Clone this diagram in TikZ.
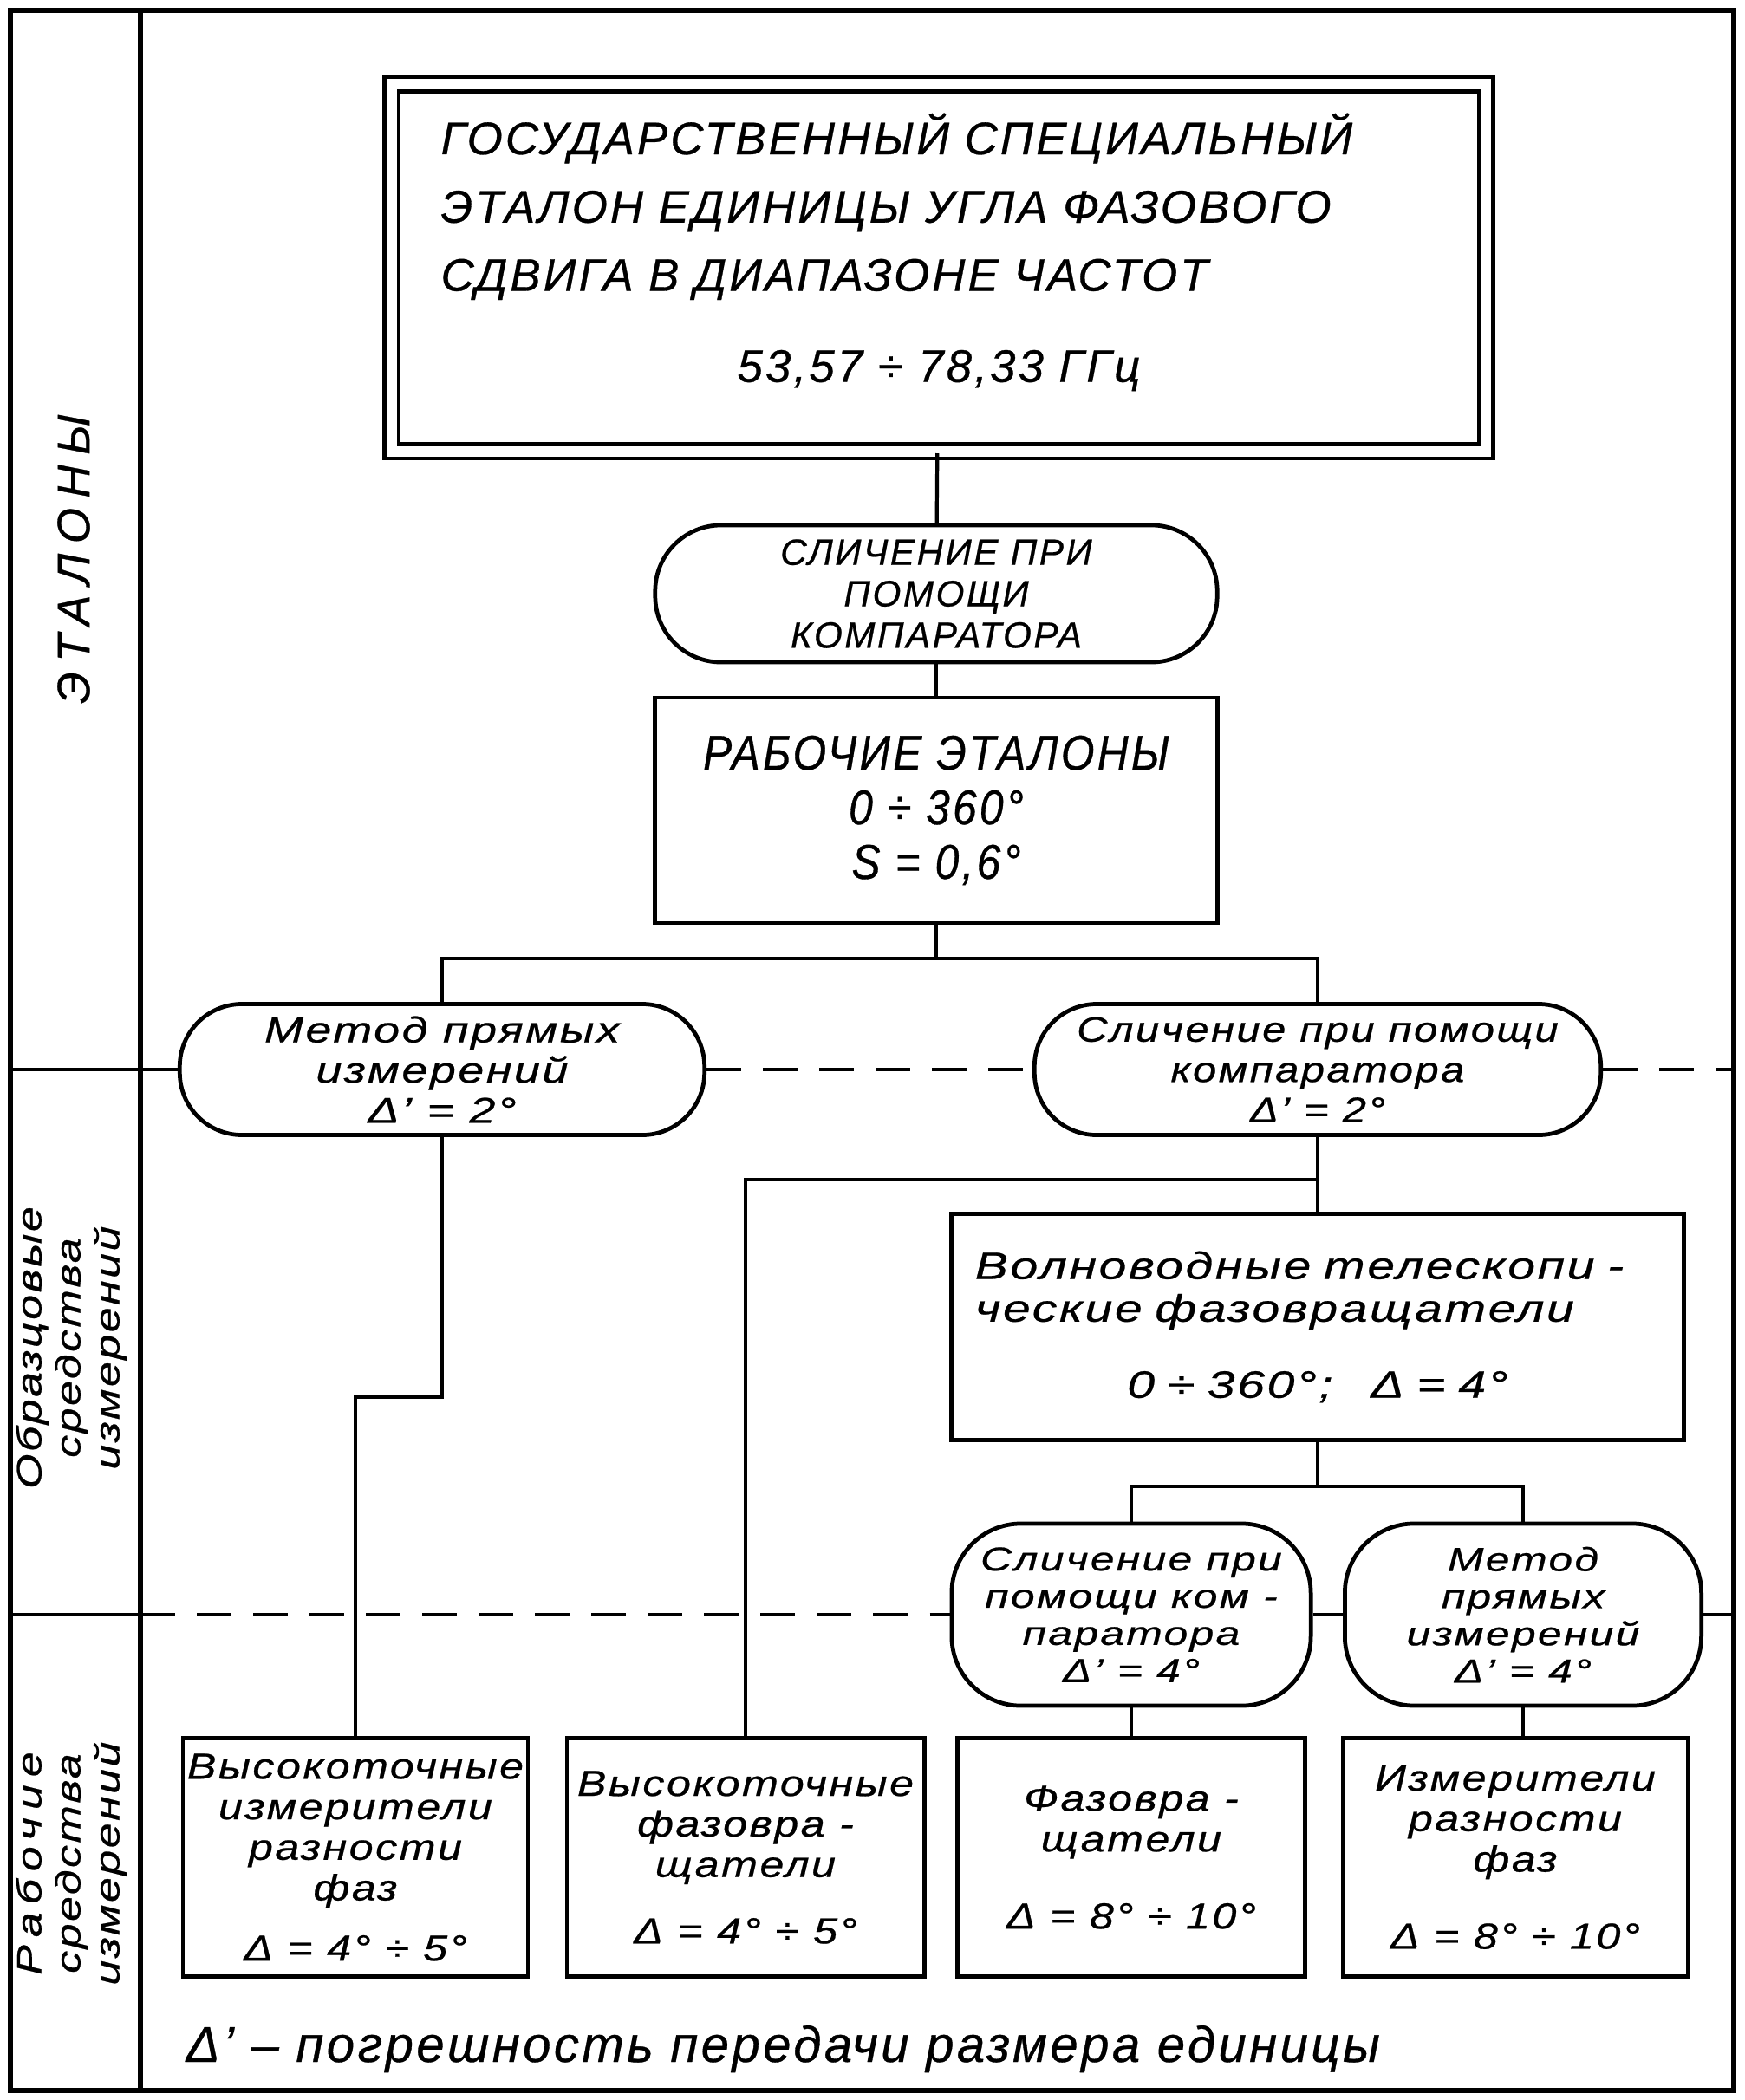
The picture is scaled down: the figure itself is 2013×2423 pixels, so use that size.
\documentclass[tikz,border=0pt]{standalone}
\usepackage{fontspec}
\setmainfont{Liberation Sans}[LetterSpace=6,FakeBold=0.6]

\begin{document}
\begin{tikzpicture}[x=0.01cm,y=-0.01cm,
    box/.style={draw,line width=1.35pt,inner sep=0pt,align=center},
    oval/.style={box,rounded corners=0.72cm},
    pill/.style={box,rounded corners=0.8cm,minimum height=2.1cm,
        font=\itshape\fontsize{10.9}{12.2}\selectfont\addfontfeatures{FakeStretch=1.3}},
    cell/.style={box,minimum width=3.98cm,minimum height=2.75cm,
        font=\itshape\fontsize{11.9}{13.3}\selectfont\addfontfeatures{FakeStretch=1.2}},
    link/.style={line width=1.2pt},
    band/.style={line width=1.2pt,dash pattern=on 0.4cm off 0.25cm},
    side/.style={rotate=90,align=center,
        font=\itshape\fontsize{11.4}{12.8}\selectfont\addfontfeatures{FakeStretch=1.3}}]
    \useasboundingbox (0,0) rectangle (2013,2423);
    \draw[line width=1.6pt] (12,12) rectangle (2000,2412);
    \draw[line width=1.6pt] (162,12) -- (162,2412);

    \node[side,font=\itshape\fontsize{15}{15}\selectfont\addfontfeatures{LetterSpace=22}] (lblstd) at (85,645) {ЭТАЛОНЫ};
    \node[side] (lblref) at (82,1555) {Образцовые\\средства\\измерений};
    \node[side] (lblwork) at (82,2150) {{\addfontfeatures{LetterSpace=22}Рабочие}\\средства\\измерений};

    \node[box,double,double distance=0.12cm,minimum width=12.62cm,minimum height=4.23cm,
        align=left,text width=11.48cm,text depth=88pt,font=\itshape\fontsize{15}{22.4}\selectfont] (std) at (1083,309)
        {ГОСУДАРСТВЕННЫЙ СПЕЦИАЛЬНЫЙ\\ЭТАЛОН ЕДИНИЦЫ УГЛА ФАЗОВОГО\\СДВИГА В ДИАПАЗОНЕ ЧАСТОТ\\[7.5pt]\makebox[\linewidth]{53,57 ÷ 78,33 ГГц}};
    \node[oval,rounded corners=0.76cm,minimum width=6.48cm,minimum height=1.58cm,font=\itshape\fontsize{12}{13.6}\selectfont] (cmp) at (1080,685)
        {СЛИЧЕНИЕ ПРИ\\ПОМОЩИ\\КОМПАРАТОРА};
    \node[box,minimum width=6.48cm,minimum height=2.6cm,
        font=\itshape\fontsize{16}{17.9}\selectfont\addfontfeatures{FakeStretch=0.88}] (etw) at (1080,935)
        {РАБОЧИЕ ЭТАЛОНЫ\\0 ÷ 360°\\S = 0,6°};

    \node[oval,minimum width=6.05cm,minimum height=1.51cm,
        font=\itshape\fontsize{11.8}{13.2}\selectfont\addfontfeatures{FakeStretch=1.3}] (mdirA) at (510,1234)
        {Метод прямых\\измерений\\Δ' = 2°};
    \node[oval,minimum width=6.53cm,minimum height=1.51cm,
        font=\itshape\fontsize{11.6}{13.2}\selectfont\addfontfeatures{FakeStretch=1.2}] (cmpA) at (1520,1234)
        {Сличение при помощи\\компаратора\\Δ' = 2°};

    \node[box,minimum width=8.45cm,minimum height=2.61cm,align=left,text width=7.9cm,
        font=\itshape\fontsize{12.5}{14}\selectfont\addfontfeatures{FakeStretch=1.3}] (wave) at (1520,1531)
        {Волноводные телескопи -\\ческие фазовращатели\\[11pt]\makebox[\linewidth]{0 ÷ 360°;\quad Δ = 4°}};

    \node[pill,minimum width=4.14cm] (cmpB) at (1305,1863)
        {Сличение при\\помощи ком -\\паратора\\Δ' = 4°};
    \node[pill,minimum width=4.11cm] (mdirB) at (1757,1863)
        {Метод\\прямых\\измерений\\Δ' = 4°};

    \node[cell] (hA) at (410,2143) {Высокоточные\\измерители\\разности\\фаз\\[6.5pt]Δ = 4° ÷ 5°};
    \node[cell,minimum width=4.12cm] (hB) at (860,2143) {Высокоточные\\фазовра -\\щатели\\[8.5pt]Δ = 4° ÷ 5°};
    \node[cell,minimum width=4.01cm] (hC) at (1305,2143) {Фазовра -\\щатели\\[12pt]Δ = 8° ÷ 10°};
    \node[cell] (hD) at (1748,2143) {Измерители\\разности\\фаз\\[12pt]Δ = 8° ÷ 10°};

    \node[anchor=west,inner sep=0pt,font=\itshape\fontsize{16.5}{17}\selectfont] (note) at (214,2364)
        {Δ' – погрешность передачи размера единицы};

    \coordinate (forkA) at (1080,1106);
    \coordinate (forkB) at (1520,1715);
    \coordinate (kneeA) at (410,1612);
    \coordinate (kneeB) at (860,1361);

    \draw[link] (std) -- (cmp);
    \draw[link] (cmp) -- (etw);
    \draw[link] (etw) -- (forkA);
    \draw[link] (mdirA.north) |- (forkA) -| (cmpA.north);
    \draw[link] (mdirA.south) |- (kneeA) -- (hA.north);
    \draw[link] (cmpA.south) -- (wave.north);
    \draw[link] (cmpA.south |- kneeB) -- (kneeB) -- (hB.north);
    \draw[link] (wave.south) -- (forkB);
    \draw[link] (cmpB.north) |- (forkB) -| (mdirB.north);
    \draw[link] (cmpB.south) -- (hC.north);
    \draw[link] (mdirB.south) -- (mdirB.south |- hD.north);

    \draw[link] (12,1234) -- (mdirA.west);
    \draw[band] (mdirA.east) -- (cmpA.west);
    \draw[band] (cmpA.east) -- (2000,1234);
    \draw[link] (12,1863) -- (162,1863);
    \draw[band] (162,1863) -- (cmpB.west);
    \draw[link] (cmpB.east) -- (mdirB.west);
    \draw[link] (mdirB.east) -- (2000,1863);
\end{tikzpicture}
\end{document}
